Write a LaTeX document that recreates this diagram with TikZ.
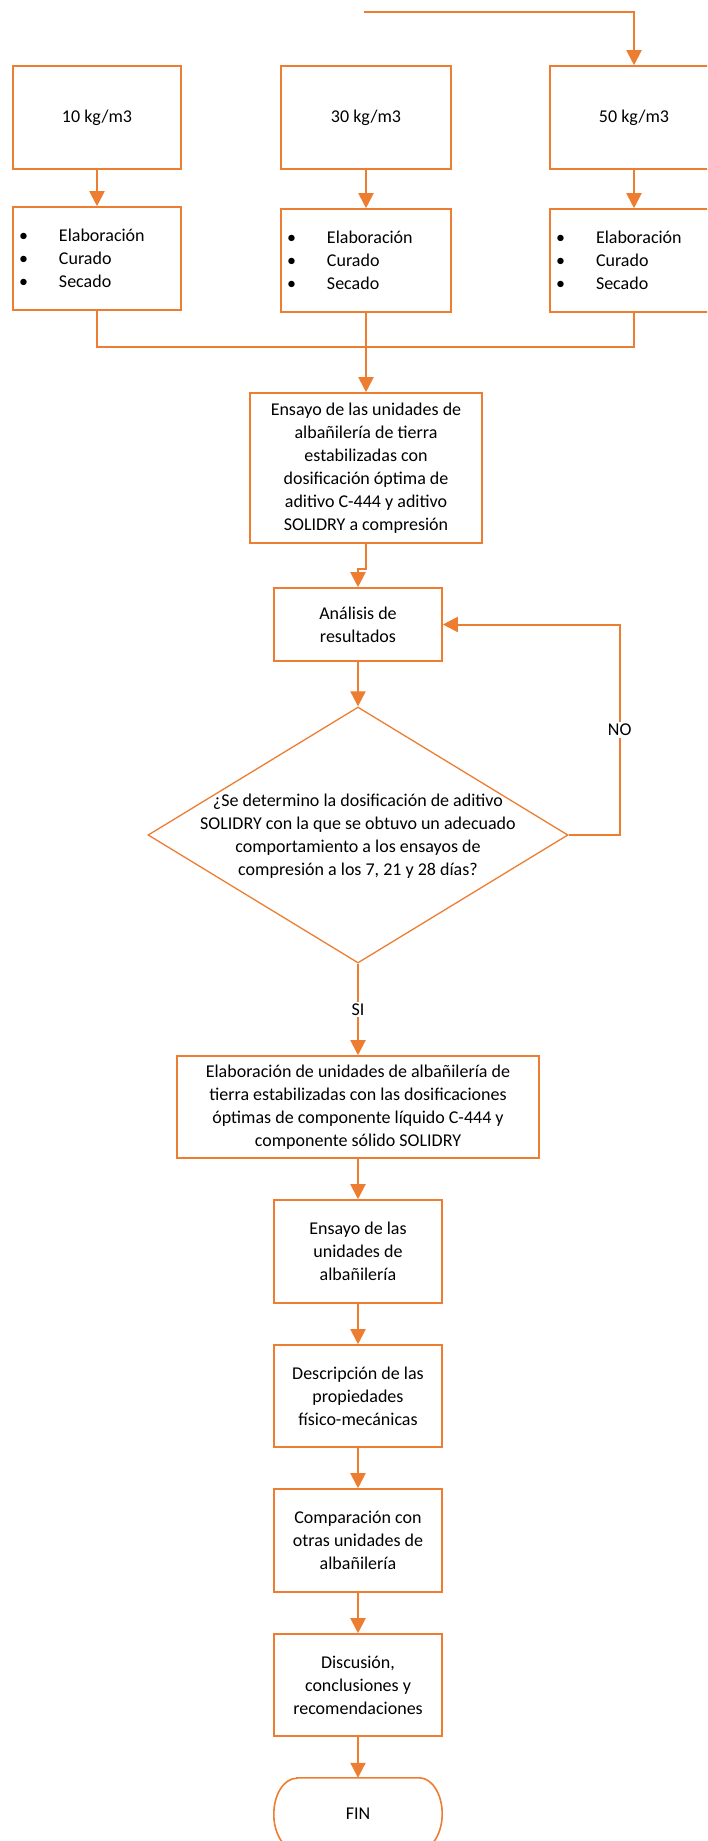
\documentclass[tikz,border=0pt]{standalone}
\usepackage{fontspec}
\setmainfont{Carlito}
\usetikzlibrary{arrows.meta,shapes.geometric,calc}
\definecolor{orng}{HTML}{ED7D31}
\begin{document}
\begin{tikzpicture}[x=1pt,y=-1pt,
  every node/.style={font=\fontsize{18}{23}\selectfont, text=black},
  box/.style={draw=orng, line width=1.6pt, fill=white, align=center, inner sep=0pt},
  listbox/.style={box, minimum width=168pt, minimum height=103pt, text width=156pt, align=left, inner xsep=6pt},
  conn/.style={draw=orng, line width=2pt},
  arr/.style={conn, -{Triangle[length=15pt,width=15pt]}},
  lbl/.style={fill=white, inner sep=2pt}]
\useasboundingbox (0,0) rectangle (707,1841);
\clip (0,0) rectangle (707,1841);
\newcommand{\bul}{\makebox[40pt][l]{\textbullet}}

% top row
\node[box, minimum width=168pt, minimum height=103pt] (b10) at (97,117.5) {10 kg/m3};
\node[box, minimum width=170pt, minimum height=103pt] (b30) at (366,117.5) {30 kg/m3};
\node[box, minimum width=168pt, minimum height=103pt] (b50) at (634,117.5) {50 kg/m3};

\node[listbox] (l10) at (97,258.5) {\bul Elaboración\\\bul Curado\\\bul Secado};
\node[listbox, minimum width=170pt, text width=158pt] (l30) at (366,260.5) {\bul Elaboración\\\bul Curado\\\bul Secado};
\node[listbox] (l50) at (634,260.5) {\bul Elaboración\\\bul Curado\\\bul Secado};

\node[box, minimum width=232pt, minimum height=150pt] (ens) at (366,468)
  {Ensayo de las unidades de\\albañilería de tierra\\estabilizadas con\\dosificación óptima de\\aditivo C-444 y aditivo\\SOLIDRY a compresión};
\node[box, minimum width=168pt, minimum height=73pt] (an) at (358,624.5) {Análisis de\\resultados};

\node[draw=orng, line width=1.3pt, diamond, minimum width=420pt, minimum height=256pt, inner sep=0pt] (dec) at (358,835) {};
\node[align=center, inner sep=0pt] (dectext) at (358,836)
  {¿Se determino la dosificación de aditivo\\SOLIDRY con la que se obtuvo un adecuado\\comportamiento a los ensayos de\\compresión a los 7, 21 y 28 días?};

\node[box, minimum width=362pt, minimum height=102pt] (elab) at (358,1107)
  {Elaboración de unidades de albañilería de\\tierra estabilizadas con las dosificaciones\\óptimas de componente líquido C-444 y\\componente sólido SOLIDRY};
\node[box, minimum width=168pt, minimum height=103pt] (ens2) at (358,1251.5) {Ensayo de las\\unidades de\\albañilería};
\node[box, minimum width=168pt, minimum height=102pt] (desc) at (358,1396) {Descripción de las\\propiedades\\físico-mecánicas};
\node[box, minimum width=168pt, minimum height=103pt] (comp) at (358,1540.5) {Comparación con\\otras unidades de\\albañilería};
\node[box, minimum width=168pt, minimum height=102pt] (disc) at (358,1685) {Discusión,\\conclusiones y\\recomendaciones};

\node[minimum width=168pt, minimum height=72pt, inner sep=0pt] (fin) at (358,1814) {FIN};
\draw[orng, line width=1.6pt] ($(fin.north west)+(23,0)$) -- ($(fin.north east)+(-23,0)$)
  arc[start angle=90, end angle=-90, x radius=23pt, y radius=36pt]
  -- ($(fin.south west)+(23,0)$)
  arc[start angle=-90, end angle=-270, x radius=23pt, y radius=36pt] -- cycle;

% connectors
\coordinate (start) at (364,12);
\draw[arr] (start) -| (b50.north);
\draw[arr] (b10.south) -- (l10.north);
\draw[arr] (b30.south) -- (l30.north);
\draw[arr] (b50.south) -- (l50.north);
\coordinate (merge) at (366,347);
\draw[conn] (l10.south) |- (merge);
\draw[conn] (l50.south) |- (merge);
\draw[arr] (l30.south) -- (ens.north);
\draw[arr] (ens.south) -- ++(0,25) -| (an.north);
\draw[arr] (an.south) -- (dec.north);
\draw[arr] (dec.east) -- ++(51,0) |- node[lbl, pos=0.25] (no) {NO} (an.east);
\draw[arr] (dec.south) -- node[lbl] (si) {SI} (elab.north);
\draw[arr] (elab.south) -- (ens2.north);
\draw[arr] (ens2.south) -- (desc.north);
\draw[arr] (desc.south) -- (comp.north);
\draw[arr] (comp.south) -- (disc.north);
\draw[arr] (disc.south) -- (fin.north);
\end{tikzpicture}
\end{document}
